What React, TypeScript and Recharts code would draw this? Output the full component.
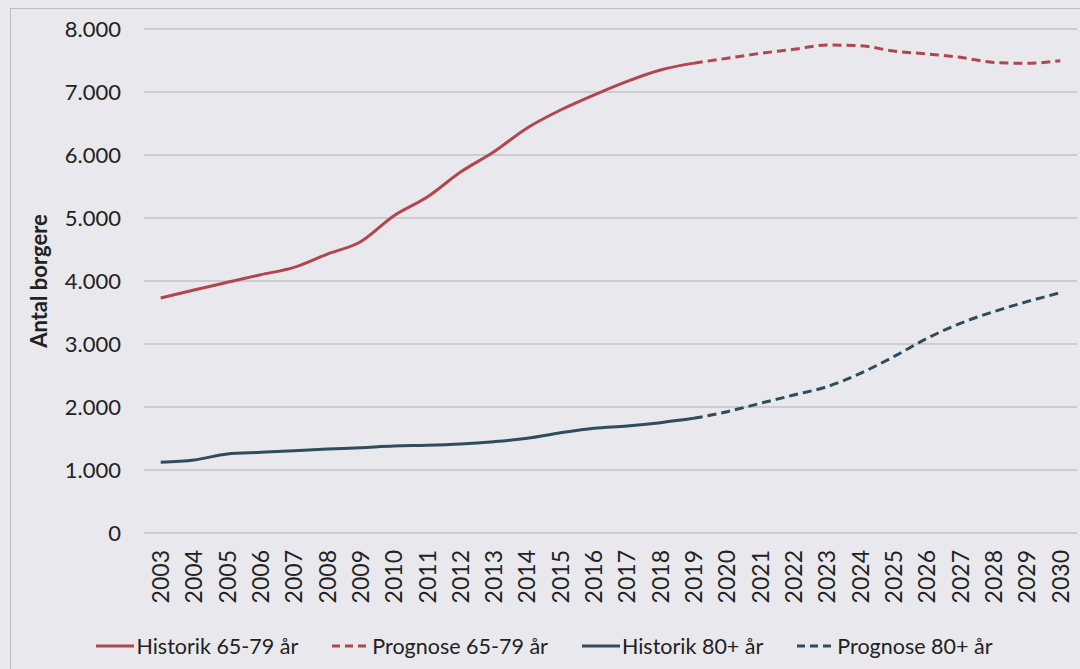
import React from "react";
import {
  LineChart, Line, XAxis, YAxis, CartesianGrid, Legend,
} from "recharts";

const years = [
  "2003", "2004", "2005", "2006", "2007", "2008", "2009", "2010", "2011", "2012",
  "2013", "2014", "2015", "2016", "2017", "2018", "2019", "2020", "2021", "2022",
  "2023", "2024", "2025", "2026", "2027", "2028", "2029", "2030",
];

// 2003-2019
const hist6579 = [3730, 3857, 3979, 4100, 4217, 4428, 4624, 5037, 5333, 5730, 6052, 6430, 6714, 6952, 7169, 7349, 7458];
const hist80 = [1122, 1159, 1254, 1280, 1307, 1333, 1354, 1381, 1392, 1413, 1450, 1503, 1590, 1662, 1698, 1751, 1820];
// 2019-2030
const prog6579 = [7458, 7535, 7614, 7677, 7746, 7735, 7650, 7603, 7550, 7470, 7455, 7497];
const prog80 = [1820, 1926, 2059, 2190, 2323, 2535, 2799, 3090, 3328, 3513, 3672, 3814];

const yTicks = [0, 1000, 2000, 3000, 4000, 5000, 6000, 7000, 8000];

const RED = "#b3464d";
const BLUE = "#2e4c5c";
const FONT = "Lato, 'Open Sans', sans-serif";
const TEXT = "#222222";

const series = [
  { key: "hist6579", name: "Historik 65-79 år", color: RED, dashed: false },
  { key: "prog6579", name: "Prognose 65-79 år", color: RED, dashed: true },
  { key: "hist80", name: "Historik 80+ år", color: BLUE, dashed: false },
  { key: "prog80", name: "Prognose 80+ år", color: BLUE, dashed: true },
];

const firstProg = hist6579.length - 1;

const data = years.map((year, i) => ({
  year,
  idx: i,
  hist6579: i < hist6579.length ? hist6579[i] : null,
  hist80: i < hist80.length ? hist80[i] : null,
  prog6579: i >= firstProg ? prog6579[i - firstProg] : null,
  prog80: i >= firstProg ? prog80[i - firstProg] : null,
}));

// boundaries between categories, for Excel-style tick marks
const boundaries = Array.from({ length: years.length + 1 }, (_, i) => i - 0.5);

const fmt = (v: number) => v.toLocaleString("da-DK");

function YearTick(props: any) {
  const { x, y, payload } = props;
  return (
    <text
      x={x}
      y={y}
      transform={`rotate(-90, ${x}, ${y})`}
      textAnchor="end"
      dy="0.36em"
      fontSize={23}
      fontFamily={FONT}
      fill={TEXT}
    >
      {payload.value}
    </text>
  );
}

function ChartLegend() {
  return (
    <div
      style={{
        display: "flex",
        justifyContent: "center",
        alignItems: "center",
        gap: 34,
        height: 46,
        fontFamily: FONT,
        fontSize: 21.5,
        color: TEXT,
        paddingLeft: 12,
      }}
    >
      {series.map((s) => (
        <div key={s.key} style={{ display: "flex", alignItems: "center" }}>
          <svg width={38} height={6} style={{ marginRight: 2 }}>
            <line
              x1={0}
              y1={3}
              x2={38}
              y2={3}
              stroke={s.color}
              strokeWidth={3}
              strokeDasharray={s.dashed ? "8 5" : undefined}
            />
          </svg>
          <span>{s.name}</span>
        </div>
      ))}
    </div>
  );
}

export default function App() {
  return (
    <div
      style={{
        position: "absolute",
        left: 0,
        top: 0,
        width: 1080,
        height: 669,
        background: "#e8e8ed",
        overflow: "hidden",
      }}
    >
      <div
        style={{
          position: "absolute",
          left: 10,
          top: 8,
          width: 1100,
          height: 700,
          borderTop: "1px solid #bdbdc2",
          borderLeft: "1px solid #bdbdc2",
        }}
      />
      <LineChart
        width={1080}
        height={669}
        data={data}
        margin={{ top: 29, right: 3, left: 0, bottom: 0 }}
        style={{ position: "absolute", left: 0, top: 0 }}
      >
        <CartesianGrid vertical={false} stroke="#c3c3c7" strokeWidth={1.3} />
        <XAxis
          xAxisId="bounds"
          type="number"
          dataKey="idx"
          domain={[-0.5, years.length - 0.5]}
          ticks={boundaries}
          allowDataOverflow
          tick={false}
          height={0}
          tickSize={6}
          stroke="#b0b0b5"
          strokeWidth={1.3}
        />
        <XAxis
          dataKey="year"
          interval={0}
          tickLine={false}
          axisLine={false}
          height={90}
          tickSize={0}
          tickMargin={17}
          padding={{ left: 16.7, right: 16.7 }}
          tick={<YearTick />}
        />
        <YAxis
          domain={[0, 8000]}
          ticks={yTicks}
          width={144}
          axisLine={false}
          tickLine={false}
          tickMargin={17}
          tickFormatter={fmt}
          tick={{ fontSize: 22, fontFamily: FONT, fill: TEXT }}
          label={{
            content: (p: any) => {
              const vb = p.viewBox;
              const cx = vb.x + 38;
              const cy = vb.y + vb.height / 2;
              return (
                <text
                  x={cx}
                  y={cy}
                  transform={`rotate(-90, ${cx}, ${cy})`}
                  textAnchor="middle"
                  dominantBaseline="central"
                  fontSize={22}
                  fontWeight="bold"
                  fontFamily={FONT}
                  fill={TEXT}
                >
                  Antal borgere
                </text>
              );
            },
          }}
        />
        <Legend verticalAlign="bottom" content={() => <ChartLegend />} />
        {series.map((s) => (
          <Line
            key={s.key}
            dataKey={s.key}
            name={s.name}
            type="monotone"
            stroke={s.color}
            strokeWidth={3}
            strokeDasharray={s.dashed ? "9 5" : undefined}
            dot={false}
            activeDot={false}
            connectNulls={false}
            isAnimationActive={false}
          />
        ))}
      </LineChart>
    </div>
  );
}
